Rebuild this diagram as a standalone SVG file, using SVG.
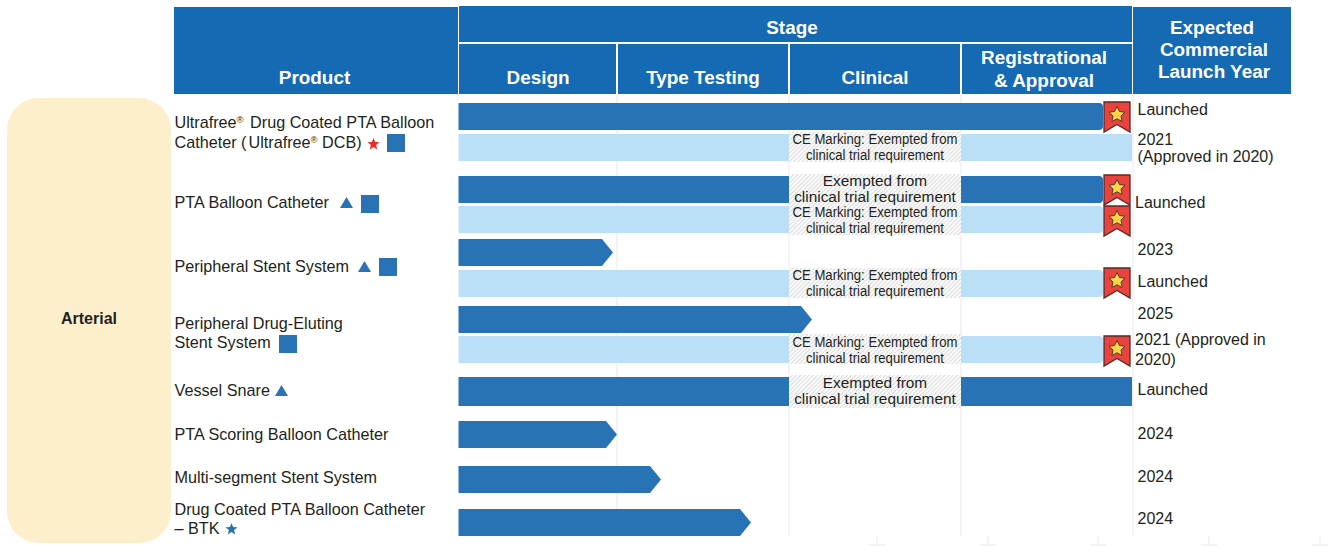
<svg xmlns="http://www.w3.org/2000/svg" width="1331" height="546" viewBox="0 0 1331 546">
<defs>
<style>
text{font-family:"Liberation Sans",Arial,sans-serif;fill:#231f20;font-size:16px}
.h{fill:#fff;font-weight:700;font-size:18.9px;text-anchor:middle}
.hb{fill:#156ab3}
.d{fill:#2773b5}
.l{fill:#bbdff6}
.g{stroke:#f3f3f8;stroke-width:2;fill:none}
.c{text-anchor:middle;font-size:15.4px}
.sup{font-size:9.5px}
.p{font-size:16.2px}
</style>
<pattern id="hatch" width="3" height="3" patternUnits="userSpaceOnUse" patternTransform="rotate(45)">
<rect width="3" height="3" fill="#fbfbfb"/><rect width="1" height="3" fill="#dcdcdc"/>
</pattern>
<g id="rib">
<path d="M0 0H26V30L13 22.500L0 30Z" fill="#e8433f" stroke="#5a2a25" stroke-width="1.3"/>
<path d="M13 4.500l2.500 5 5.500.7-4 3.800 1.100 5.500-5.100-2.700-5.100 2.700 1.100-5.500-4-3.800 5.500-.7z" fill="#f7d44a" stroke="#5a3a20" stroke-width="1"/>
</g>
<path id="star" d="M0-6l1.600 4.100 4.400.2-3.400 2.800 1.100 4.300L0 3l-3.700 2.400 1.100-4.300-3.400-2.800 4.400-.2z"/>
</defs>
<rect width="1331" height="546" fill="#fff"/>
<g id="grid">
<path class="g" d="M617 94V536M789 94V536M961 94V536M1133 94V536M174 94H458M458 94V100"/>
<path class="g" d="M877 536V546M869 545H885M988 536V546M980 545H996M1098 536V546M1090 545H1106M1209 536V546M1201 545H1217M1320 536V546M1312 545H1328"/>
</g>
<g id="header">
<rect class="hb" x="174" y="7" width="284" height="87"/>
<rect class="hb" x="459" y="6" width="673" height="36"/>
<rect class="hb" x="459" y="44" width="157" height="50"/>
<rect class="hb" x="618" y="44" width="170" height="50"/>
<rect class="hb" x="790" y="44" width="170" height="50"/>
<rect class="hb" x="962" y="44" width="170" height="50"/>
<rect class="hb" x="1133" y="7" width="158" height="87"/>
<text class="h" x="314.500" y="84">Product</text>
<text class="h" x="792" y="34">Stage</text>
<text class="h" x="538" y="84">Design</text>
<text class="h" x="703" y="84">Type Testing</text>
<text class="h" x="875" y="84">Clinical</text>
<text class="h" x="1044" y="64">Registrational</text>
<text class="h" x="1044" y="87">&amp; Approval</text>
<text class="h" x="1212" y="34">Expected</text>
<text class="h" x="1214" y="56">Commercial</text>
<text class="h" x="1214" y="78">Launch Year</text>
</g>
<g id="arterial">
<rect x="7" y="98" width="164" height="445" rx="32" fill="#feefcc"/>
<text x="89" y="324" text-anchor="middle" style="font-weight:700">Arterial</text>
</g>
<g id="bars">
<path class="d" d="M458.500 103H1099Q1103 103 1103 107V126Q1103 130 1099 130H458.500Z"/>
<rect class="l" x="458.500" y="134" width="673.500" height="27"/>
<path class="d" d="M458.500 176H1099Q1103 176 1103 180V199Q1103 203 1099 203H458.500Z"/>
<path class="l" d="M458.500 206H1099Q1103 206 1103 210V229Q1103 233 1099 233H458.500Z"/>
<path class="d" d="M458.500 239H602L613 252.500L602 266H458.500Z"/>
<path class="l" d="M458.500 270H1099Q1103 270 1103 274V293Q1103 297 1099 297H458.500Z"/>
<path class="d" d="M458.500 306H801L812 319.500L801 333H458.500Z"/>
<path class="l" d="M458.500 336H1099Q1103 336 1103 340V359Q1103 363 1099 363H458.500Z"/>
<rect class="d" x="458.500" y="377" width="673.500" height="29"/>
<path class="d" d="M458.500 421H606L617 434.500L606 448H458.500Z"/>
<path class="d" d="M458.500 466H650L661 479.500L650 493H458.500Z"/>
<path class="d" d="M458.500 509H740L751 522.500L740 536H458.500Z"/>
</g>
<g id="exempt">
<rect x="789" y="132" width="172" height="30" fill="url(#hatch)"/>
<rect x="789" y="174" width="172" height="61" fill="url(#hatch)"/>
<rect x="789" y="268" width="172" height="30" fill="url(#hatch)"/>
<rect x="789" y="334" width="172" height="30" fill="url(#hatch)"/>
<rect x="789" y="375" width="172" height="33" fill="url(#hatch)"/>
<g>
<text class="c" x="875" y="144" textLength="165" lengthAdjust="spacingAndGlyphs">CE Marking: Exempted from</text>
<text class="c" x="875" y="160" textLength="138" lengthAdjust="spacingAndGlyphs">clinical trial requirement</text>
<text class="c" x="875" y="186">Exempted from</text>
<text class="c" x="875" y="202">clinical trial requirement</text>
<text class="c" x="875" y="217" textLength="165" lengthAdjust="spacingAndGlyphs">CE Marking: Exempted from</text>
<text class="c" x="875" y="233" textLength="138" lengthAdjust="spacingAndGlyphs">clinical trial requirement</text>
<text class="c" x="875" y="280" textLength="165" lengthAdjust="spacingAndGlyphs">CE Marking: Exempted from</text>
<text class="c" x="875" y="296" textLength="138" lengthAdjust="spacingAndGlyphs">clinical trial requirement</text>
<text class="c" x="875" y="347" textLength="165" lengthAdjust="spacingAndGlyphs">CE Marking: Exempted from</text>
<text class="c" x="875" y="363" textLength="138" lengthAdjust="spacingAndGlyphs">clinical trial requirement</text>
<text class="c" x="875" y="388">Exempted from</text>
<text class="c" x="875" y="404">clinical trial requirement</text>
</g>
</g>
<g id="ribbons">
<use href="#rib" x="1104" y="102"/>
<use href="#rib" x="1104" y="175"/>
<use href="#rib" x="1104" y="206"/>
<use href="#rib" x="1104" y="268"/>
<use href="#rib" x="1104" y="336"/>
</g>
<g id="products">
<text class="p" x="174.500" y="128">Ultrafree<tspan class="sup" dy="-5">®</tspan><tspan dy="5" dx="2"> Drug Coated PTA Balloon</tspan></text>
<text class="p" x="174.500" y="148">Catheter (<tspan dx="2">Ultrafree</tspan><tspan class="sup" dy="-5">®</tspan><tspan dy="5"> DCB)</tspan></text>
<use href="#star" x="373.500" y="144" fill="#ee2a24"/>
<rect class="d" x="387" y="134" width="18" height="18"/>
<text class="p" x="174.500" y="208">PTA Balloon Catheter</text>
<path class="d" d="M346.500 197L353 208H340Z"/>
<rect class="d" x="361" y="195" width="18" height="18"/>
<text class="p" x="174.500" y="272">Peripheral Stent System</text>
<path class="d" d="M364.500 261L371 272H358Z"/>
<rect class="d" x="379" y="258" width="18" height="18"/>
<text class="p" x="174.500" y="329">Peripheral Drug-Eluting</text>
<text class="p" x="174.500" y="348">Stent System</text>
<rect class="d" x="279" y="335" width="18" height="18"/>
<text class="p" x="174.500" y="396">Vessel Snare</text>
<path class="d" d="M281.500 385L288 396H275Z"/>
<text class="p" x="174.500" y="440">PTA Scoring Balloon Catheter</text>
<text class="p" x="174.500" y="483">Multi-segment Stent System</text>
<text class="p" x="174.500" y="515">Drug Coated PTA Balloon Catheter</text>
<text class="p" x="174.500" y="534">– BTK</text>
<use href="#star" x="231.500" y="529" fill="#2773b5"/>
</g>
<g id="years">
<text x="1137.500" y="115">Launched</text>
<text x="1137.500" y="145">2021</text>
<text x="1137.500" y="162">(Approved in 2020)</text>
<text x="1135" y="208">Launched</text>
<text x="1137.500" y="255">2023</text>
<text x="1137.500" y="287">Launched</text>
<text x="1137.500" y="319">2025</text>
<text x="1135" y="345">2021 (Approved in</text>
<text x="1135" y="365">2020)</text>
<text x="1137.500" y="395">Launched</text>
<text x="1137.500" y="439">2024</text>
<text x="1137.500" y="482">2024</text>
<text x="1137.500" y="524">2024</text>
</g>
</svg>
